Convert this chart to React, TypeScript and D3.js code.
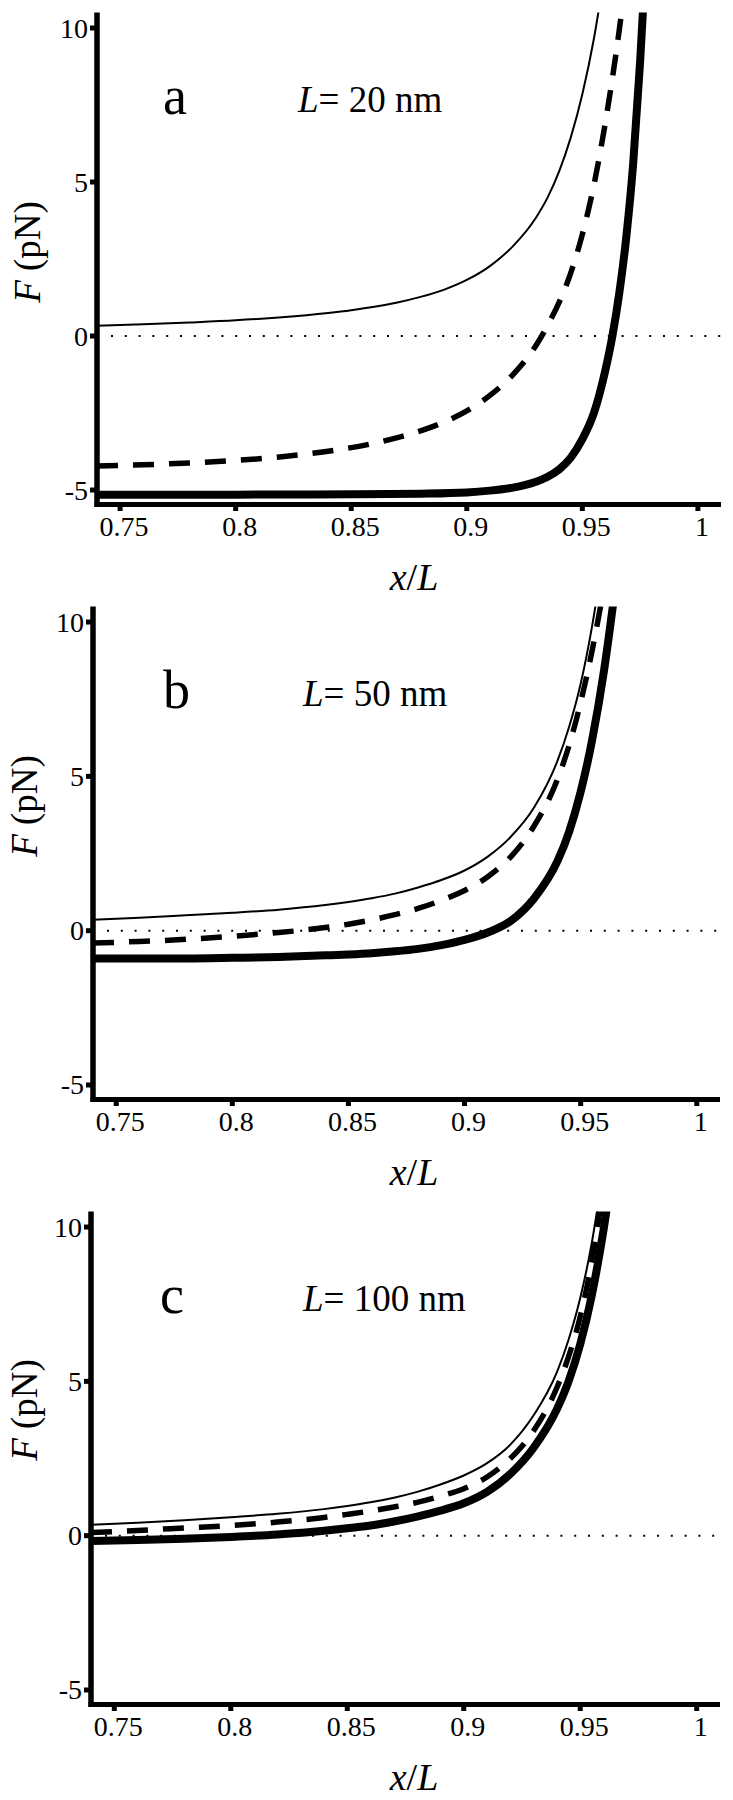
import React from "react";
import * as d3 from "d3";

// ---- data ----
const xTicks = [0.75, 0.8, 0.85, 0.9, 0.95, 1];
const xTickLabels = ["0.75", "0.8", "0.85", "0.9", "0.95", "1"];
const yTicks = [-5, 0, 5, 10];
const yTickLabels = ["-5", "0", "5", "10"];
const xDomain = [0.74, 1.01];
const yDomain = [-5.47, 10.5];

const panelLetters = ["a", "b", "c"];
const panelLengths = ["20", "50", "100"];

// panel a
const aThinX = [0.74, 0.76, 0.78, 0.8, 0.82, 0.84, 0.85, 0.86, 0.87, 0.88, 0.89, 0.9, 0.91, 0.92, 0.93, 0.935, 0.94, 0.945, 0.95, 0.955, 0.958];
const aThinF = [0.33, 0.38, 0.44, 0.51, 0.61, 0.75, 0.84, 0.95, 1.09, 1.27, 1.5, 1.82, 2.27, 2.92, 3.85, 4.5, 5.35, 6.45, 7.85, 9.65, 11.0];
const aDashX = [0.74, 0.76, 0.78, 0.8, 0.82, 0.84, 0.86, 0.87, 0.88, 0.89, 0.9, 0.91, 0.92, 0.93, 0.935, 0.94, 0.945, 0.95, 0.955, 0.96, 0.965, 0.968];
const aDashF = [-4.22, -4.18, -4.12, -4.04, -3.92, -3.74, -3.48, -3.3, -3.08, -2.8, -2.43, -1.93, -1.25, -0.3, 0.35, 1.1, 2.05, 3.3, 4.9, 6.95, 9.4, 11.1];
const aThickX = [0.74, 0.8, 0.85, 0.88, 0.9, 0.91, 0.92, 0.925, 0.93, 0.935, 0.94, 0.945, 0.95, 0.955, 0.96, 0.963, 0.966, 0.969, 0.972, 0.975, 0.977];
const aThickF = [-5.15, -5.15, -5.14, -5.12, -5.08, -5.02, -4.92, -4.84, -4.73, -4.57, -4.33, -3.95, -3.35, -2.5, -1.1, 0.0, 1.4, 3.2, 5.6, 8.9, 11.6];

// panel b
const bThinX = [0.74, 0.76, 0.78, 0.8, 0.82, 0.84, 0.85, 0.86, 0.87, 0.88, 0.89, 0.9, 0.91, 0.92, 0.93, 0.94, 0.945, 0.95, 0.955, 0.958];
const bThinF = [0.35, 0.42, 0.5, 0.58, 0.68, 0.83, 0.93, 1.05, 1.2, 1.4, 1.64, 1.95, 2.4, 3.05, 4.0, 5.5, 6.6, 8.0, 9.9, 11.3];
const bDashX = [0.74, 0.76, 0.78, 0.8, 0.82, 0.84, 0.85, 0.86, 0.87, 0.88, 0.89, 0.9, 0.91, 0.92, 0.93, 0.94, 0.945, 0.95, 0.955, 0.96];
const bDashF = [-0.4, -0.35, -0.28, -0.18, -0.06, 0.1, 0.21, 0.35, 0.52, 0.72, 0.98, 1.3, 1.75, 2.4, 3.4, 4.9, 6.0, 7.4, 9.1, 11.1];
const bThickX = [0.74, 0.78, 0.8, 0.82, 0.84, 0.85, 0.86, 0.87, 0.88, 0.89, 0.9, 0.91, 0.92, 0.93, 0.94, 0.945, 0.95, 0.955, 0.96, 0.964, 0.966];
const bThickF = [-0.9, -0.9, -0.88, -0.85, -0.8, -0.77, -0.73, -0.67, -0.59, -0.47, -0.3, -0.06, 0.32, 1.05, 2.25, 3.2, 4.5, 6.2, 8.4, 10.6, 11.8];

// panel c
const cThinX = [0.74, 0.76, 0.78, 0.8, 0.82, 0.84, 0.85, 0.86, 0.87, 0.88, 0.89, 0.9, 0.91, 0.92, 0.93, 0.94, 0.945, 0.95, 0.955, 0.958];
const cThinF = [0.35, 0.42, 0.5, 0.6, 0.71, 0.86, 0.96, 1.08, 1.23, 1.42, 1.66, 1.95, 2.35, 2.95, 3.9, 5.3, 6.35, 7.7, 9.5, 10.9];
const cDashX = [0.74, 0.76, 0.78, 0.8, 0.82, 0.84, 0.85, 0.86, 0.87, 0.88, 0.89, 0.9, 0.91, 0.92, 0.93, 0.94, 0.945, 0.95, 0.955, 0.958, 0.96];
const cDashF = [0.1, 0.17, 0.25, 0.33, 0.44, 0.59, 0.69, 0.8, 0.93, 1.08, 1.28, 1.52, 1.9, 2.5, 3.4, 4.8, 5.8, 7.1, 8.9, 10.3, 11.5];
const cThickX = [0.74, 0.76, 0.78, 0.8, 0.82, 0.84, 0.85, 0.86, 0.87, 0.88, 0.89, 0.9, 0.91, 0.92, 0.93, 0.94, 0.945, 0.95, 0.955, 0.96, 0.963];
const cThickF = [-0.17, -0.14, -0.1, -0.04, 0.04, 0.16, 0.24, 0.33, 0.46, 0.62, 0.81, 1.05, 1.42, 2.0, 2.85, 4.1, 5.0, 6.2, 7.8, 9.9, 11.4];

const panelSeries = [
  [[aThinX, aThinF], [aDashX, aDashF], [aThickX, aThickF]],
  [[bThinX, bThinF], [bDashX, bDashF], [bThickX, bThickF]],
  [[cThinX, cThinF], [cDashX, cDashF], [cThickX, cThickF]],
];

// ---- layout ----
const geometry = [
  { x0: 97, x1: 721, y0: 504.5, y1: 12.6, yLabelX: 40, yLabelY: 252 },
  { x0: 93, x1: 720, y0: 1099.5, y1: 606.6, yLabelX: 37, yLabelY: 806 },
  { x0: 91, x1: 720, y0: 1704.5, y1: 1211.6, yLabelX: 37, yLabelY: 1410 },
];
const seriesStyle = [
  { w: 2, dash: null },
  { w: 5.5, dash: "21 15" },
  { w: 8, dash: null },
];
const FONT = "Liberation Serif";

function Panel({ idx }: { idx: number }) {
  const g = geometry[idx];
  const xs = d3.scaleLinear().domain(xDomain).range([g.x0, g.x1]);
  const ys = d3.scaleLinear().domain(yDomain).range([g.y0, g.y1]);
  const line = d3
    .line<[number, number]>()
    .x((d) => xs(d[0]))
    .y((d) => ys(d[1]))
    .curve(d3.curveMonotoneX);
  const clipId = `clip-${idx}`;
  const top = ys(yDomain[1]);
  const bottom = ys(yDomain[0]);
  const left = xs(xDomain[0]);
  const right = xs(xDomain[1]);
  const y10 = ys(10);
  return (
    <g style={{ fontFamily: FONT }} fill="#000">
      <defs>
        <clipPath id={clipId}>
          <rect x={left} y={top} width={right - left + 10} height={bottom - top} />
        </clipPath>
      </defs>
      {/* zero dotted line */}
      <line x1={left + 14} x2={right} y1={ys(0)} y2={ys(0)} stroke="#000" strokeWidth={2} strokeDasharray="2 11.8" />
      {/* curves */}
      <g clipPath={`url(#${clipId})`}>
        {panelSeries[idx].map(([sx, sf], k) => {
          const pts = sx.map((v, i) => [v, sf[i]] as [number, number]);
          const st = seriesStyle[k];
          return (
            <path
              key={k}
              d={line(pts) || ""}
              fill="none"
              stroke="#000"
              strokeWidth={st.w}
              strokeDasharray={st.dash || undefined}
            />
          );
        })}
      </g>
      {/* axes */}
      <line x1={left} x2={left} y1={top} y2={bottom + 2.5} stroke="#000" strokeWidth={5.5} />
      <line x1={left - 2.5} x2={right} y1={bottom} y2={bottom} stroke="#000" strokeWidth={5} />
      {yTicks.map((t, i) => (
        <g key={"y" + i}>
          <line x1={left - 7} x2={left} y1={ys(t)} y2={ys(t)} stroke="#000" strokeWidth={5} />
          <text x={left - 9} y={ys(t) + 9.5} textAnchor="end" fontSize={28}>
            {yTickLabels[i]}
          </text>
        </g>
      ))}
      {xTicks.map((t, i) => (
        <g key={"x" + i}>
          <line x1={xs(t)} x2={xs(t)} y1={bottom} y2={bottom + 6.5} stroke="#000" strokeWidth={5} />
          <text x={xs(t) + 4} y={bottom + 31} textAnchor="middle" fontSize={28}>
            {xTickLabels[i]}
          </text>
        </g>
      ))}
      {/* axis titles */}
      <text x={414} y={bottom + 85} textAnchor="middle" fontSize={38}>
        <tspan fontStyle="italic">x</tspan>
        <tspan>/</tspan>
        <tspan fontStyle="italic">L</tspan>
      </text>
      <text
        transform={`translate(${g.yLabelX},${g.yLabelY}) rotate(-90)`}
        textAnchor="middle"
        fontSize={37}
      >
        <tspan fontStyle="italic">F</tspan>
        <tspan> (pN)</tspan>
      </text>
      {/* annotations */}
      <text x={idx === 2 ? 160 : 163} y={y10 + 86} fontSize={54}>
        {panelLetters[idx]}
      </text>
      <text x={idx === 0 ? 298 : 303} y={y10 + 84} fontSize={37}>
        <tspan fontStyle="italic">L</tspan>
        <tspan>= {panelLengths[idx]} nm</tspan>
      </text>
    </g>
  );
}

export default function App() {
  return (
    <svg
      width={733}
      height={1800}
      viewBox="0 0 733 1800"
      style={{ position: "absolute", left: 0, top: 0, display: "block", background: "#fff" }}
    >
      <rect x={0} y={0} width={733} height={1800} fill="#fff" />
      {[0, 1, 2].map((i) => (
        <Panel key={i} idx={i} />
      ))}
    </svg>
  );
}
